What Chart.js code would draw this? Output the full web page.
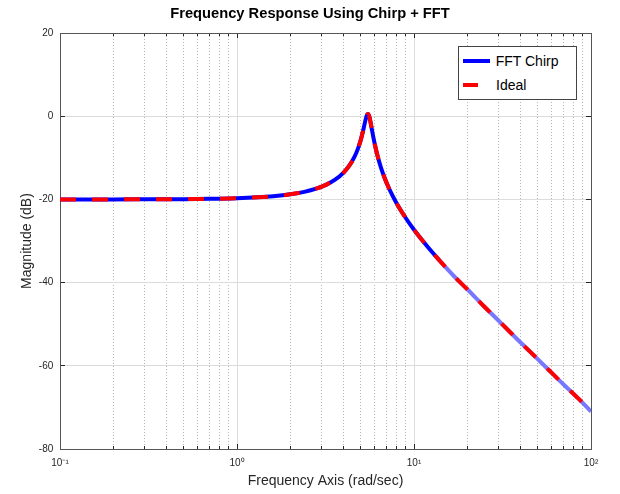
<!DOCTYPE html>
<html><head><meta charset="utf-8">
<script src="https://cdn.jsdelivr.net/npm/chart.js@4"></script>
<style>
html,body{margin:0;padding:0;background:#fff;}
#wrap{position:relative;width:620px;height:494px;}
#legend{position:absolute;left:458px;top:46px;width:119px;height:54px;border:1px solid #444;background:#fff;box-sizing:border-box;font-family:"Liberation Sans",Arial,sans-serif;font-size:14px;color:#000;}
#legend .sw{position:absolute;height:4px;}
#legend .tx{position:absolute;height:20px;line-height:20px;white-space:nowrap;}
</style></head>
<body>
<div id="wrap">
<canvas id="c" width="620" height="494"></canvas>
<div id="legend">
  <div class="sw" style="left:3.7px;top:11.7px;width:27.3px;background:#0000ff;"></div>
  <div class="tx" style="left:36.7px;top:3.7px;">FFT Chirp</div>
  <div class="sw" style="left:3.7px;top:36.3px;width:15.6px;background:#ff0000;"></div>
  <div class="tx" style="left:37px;top:28.3px;">Ideal</div>
</div>
</div>
<script>
// ---- data ----
const freq = [0.1,0.15,0.2,0.3,0.4,0.5,0.7,1,1.3,1.6,2,2.4,2.8,3.2,3.6,4,4.3,4.6,4.8,5.0,5.1,5.2,5.3,5.4,5.45,5.5,5.55,5.6,5.7,5.8,5.9,6.0,6.2,6.5,6.8,7.2,7.6,8,9,10,12,14,17,20,25,30,40,50,60,70,85,100];
const chirpDb = [-20.0,-19.99,-19.99,-19.97,-19.95,-19.93,-19.86,-19.71,-19.5,-19.24,-18.78,-18.18,-17.41,-16.44,-15.19,-13.55,-11.95,-9.84,-8.03,-5.73,-4.35,-2.82,-1.24,0.08,0.46,0.54,0.3,-0.21,-1.75,-3.5,-5.17,-6.68,-9.27,-12.3,-14.67,-17.2,-19.26,-21.02,-24.53,-27.28,-31.52,-34.78,-38.65,-41.6,-45.8,-49.1,-54.4,-58.4,-61.7,-64.5,-67.9,-71.0];
const idealDb = [-20.0,-19.99,-19.99,-19.97,-19.95,-19.93,-19.86,-19.71,-19.5,-19.24,-18.78,-18.18,-17.41,-16.44,-15.19,-13.55,-11.95,-9.84,-8.03,-5.73,-4.35,-2.82,-1.24,0.08,0.46,0.54,0.3,-0.21,-1.75,-3.5,-5.17,-6.68,-9.27,-12.3,-14.67,-17.2,-19.26,-21.02,-24.53,-27.28,-31.52,-34.78,-38.65,-41.6,-45.8,-49.1,-54.4,-58.4,-61.7,-64.5,-67.9,-71.0];
const yTicks = [-80,-60,-40,-20,0,20];
const xMajor = [0.1,1,10,100];
const xMajorLabels = ['10\u207B\u00B9','10\u2070','10\u00B9','10\u00B2'];
const xMinor = [0.2,0.3,0.4,0.5,0.6,0.7,0.8,0.9,2,3,4,5,6,7,8,9,20,30,40,50,60,70,80,90];
const seriesNames = ['FFT Chirp','Ideal'];

const FONT = "'Liberation Sans', Arial, sans-serif";
const setTicks = arr => s => { s.ticks = arr.map(v => ({value: v})); };

const framePlugin = {
  id: 'frame',
  beforeDatasetsDraw(chart) {
    const {ctx, chartArea: a} = chart;
    ctx.save();
    ctx.strokeStyle = '#555';
    ctx.lineWidth = 1;
    ctx.strokeRect(Math.round(a.left) + 0.5, Math.round(a.top) + 0.5, Math.round(a.right - a.left), Math.round(a.bottom - a.top));
    ctx.restore();
  }
};

new Chart(document.getElementById('c'), {
  type: 'line',
  data: {
    datasets: [
      {
        label: seriesNames[1],
        data: freq.map((f, i) => ({x: f, y: idealDb[i]})),
        borderColor: '#ff0000',
        borderWidth: 4,
        borderDash: [16, 16],
        pointRadius: 0,
        cubicInterpolationMode: 'monotone',
        order: 0
      },
      {
        label: seriesNames[0],
        data: freq.map((f, i) => ({x: f, y: chirpDb[i]})),
        borderColor: '#0000ff',
        borderWidth: 4,
        pointRadius: 0,
        cubicInterpolationMode: 'monotone',
        segment: { borderColor: c => c.p0.parsed.x >= 13.5 ? '#7878ff' : '#0000ff' },
        order: 1
      }
    ]
  },
  options: {
    responsive: false,
    animation: false,
    devicePixelRatio: 1,
    layout: { padding: 0 },
    plugins: {
      legend: { display: false },
      tooltip: { enabled: false },
      title: {
        display: true,
        text: 'Frequency Response Using Chirp + FFT',
        color: '#000',
        font: { family: FONT, size: 14.7, weight: 'bold' },
        padding: { top: 5, bottom: 10.4 }
      }
    },
    scales: {
      x: {
        type: 'logarithmic', position: 'bottom', min: 0.1, max: 100, weight: 1,
        afterBuildTicks: setTicks(xMajor),
        afterFit: s => { s.height = 45; },
        ticks: {
          autoSkip: false, maxRotation: 0, padding: 13, color: '#262626',
          font: { family: FONT, size: 10 },
          callback: v => { const k = xMajor.findIndex(m => Math.abs(m - v) < 1e-9); return k >= 0 ? xMajorLabels[k] : ''; }
        },
        grid: { color: '#dcdcdc', lineWidth: 1, tickLength: -5, tickColor: '#262626' },
        border: { display: false },
        title: { display: true, text: 'Frequency Axis (rad/sec)', color: '#262626', font: { family: FONT, size: 14 }, padding: { top: 0, bottom: 4.6 } }
      },
      xMinor: {
        type: 'logarithmic', position: 'bottom', min: 0.1, max: 100, weight: 0,
        afterBuildTicks: setTicks(xMinor),
        afterFit: s => { s.height = 0; },
        ticks: { display: false },
        grid: { color: '#b4b4b4', lineWidth: 1, tickLength: -3, tickColor: '#262626' },
        border: { display: false, dash: [1, 2] }
      },
      xTop: {
        type: 'logarithmic', position: 'top', min: 0.1, max: 100,
        afterBuildTicks: setTicks(xMajor),
        afterFit: s => { s.height = 0; },
        ticks: { display: false },
        grid: { drawOnChartArea: false, tickLength: -5, tickColor: '#262626' },
        border: { display: false }
      },
      xTopMinor: {
        type: 'logarithmic', position: 'top', min: 0.1, max: 100,
        afterBuildTicks: setTicks(xMinor),
        afterFit: s => { s.height = 0; },
        ticks: { display: false },
        grid: { drawOnChartArea: false, tickLength: -3, tickColor: '#262626' },
        border: { display: false }
      },
      y: {
        type: 'linear', position: 'left', min: -80, max: 20,
        afterBuildTicks: setTicks(yTicks),
        afterFit: s => { s.width = 60; },
        ticks: { padding: 11.7, color: '#262626', font: { family: FONT, size: 10 } },
        grid: { color: '#dcdcdc', lineWidth: 1, tickLength: -5, tickColor: '#262626' },
        border: { display: false },
        title: { display: true, text: 'Magnitude (dB)', color: '#262626', font: { family: FONT, size: 14 }, padding: { top: 18.6, bottom: 0 } }
      },
      y2: {
        type: 'linear', position: 'right', min: -80, max: 20,
        afterBuildTicks: setTicks(yTicks),
        afterFit: s => { s.width = 29; },
        ticks: { display: false },
        grid: { drawOnChartArea: false, tickLength: -5, tickColor: '#262626' },
        border: { display: false }
      }
    }
  },
  plugins: [framePlugin]
});
</script>
</body></html>
